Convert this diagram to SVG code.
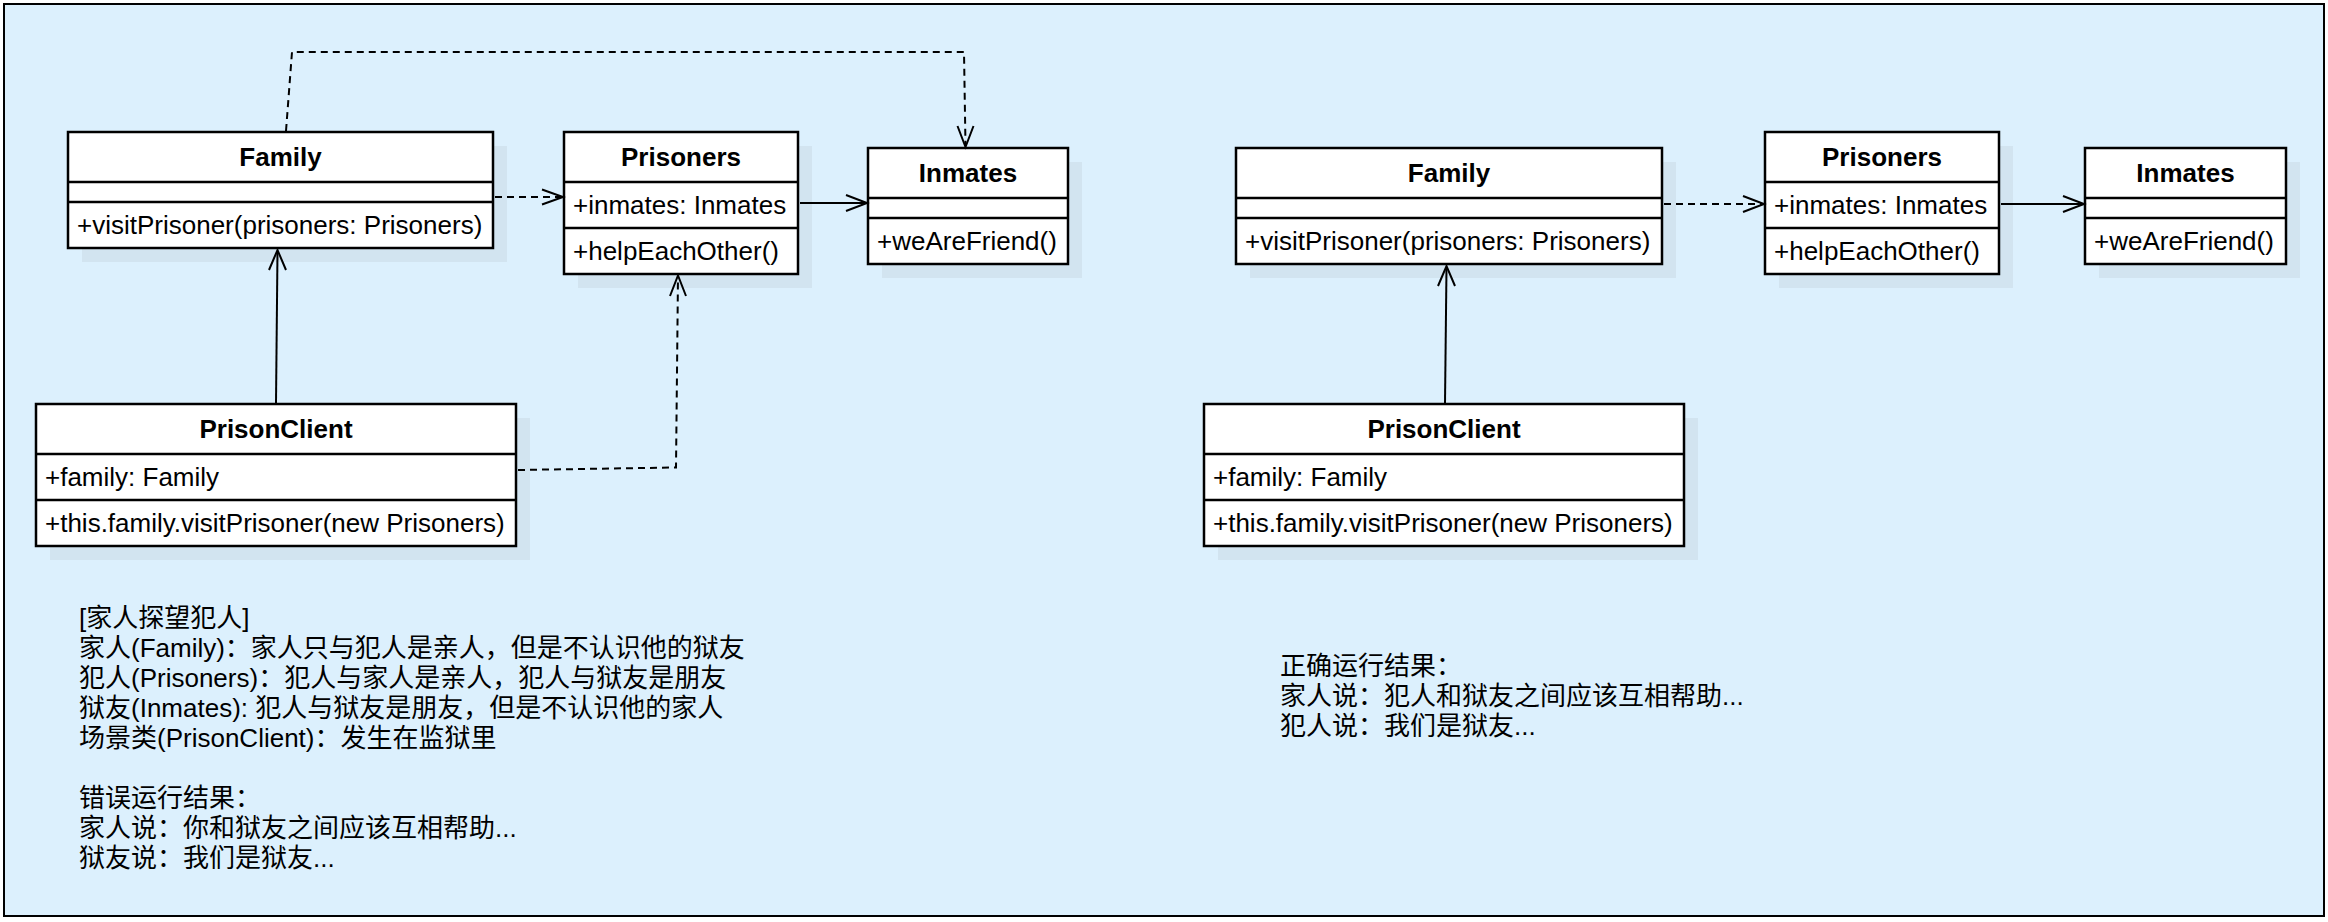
<svg xmlns="http://www.w3.org/2000/svg" width="2328" height="922" viewBox="0 0 2328 922">
<style>
.box{fill:#ffffff;stroke:#000000;stroke-width:2.5}
.sep{stroke:#000000;stroke-width:2.5;fill:none}
.shadow{fill:#d2e4f0}
.t{font-family:"Liberation Sans",Arial,"Noto Sans CJK SC",sans-serif;font-size:26px;fill:#000000}
.b{font-weight:bold;text-anchor:middle}
.note{font-family:"Liberation Sans",Arial,"Noto Sans CJK SC",sans-serif;font-size:26px;fill:#000000}
.solid{stroke:#000000;stroke-width:2;fill:none}
.dash{stroke:#000000;stroke-width:2;fill:none;stroke-dasharray:7 5}
.head{stroke:#000000;stroke-width:2;fill:none}
</style>
<rect x="0" y="0" width="2328" height="922" fill="#ffffff"/>
<rect x="4" y="4" width="2320" height="912" fill="#dcf0fd" stroke="#000000" stroke-width="2"/>

<!-- Left diagram -->
<g id="family-left">
<rect class="shadow" x="82" y="146" width="425" height="116"/>
<rect class="box" x="68" y="132" width="425" height="116"/>
<line class="sep" x1="68" y1="182" x2="493" y2="182"/>
<line class="sep" x1="68" y1="202" x2="493" y2="202"/>
<text class="t b" x="280.5" y="166">Family</text>
<text class="t" x="77" y="234">+visitPrisoner(prisoners: Prisoners)</text>
</g>
<g id="prisoners-left">
<rect class="shadow" x="578" y="146" width="234" height="142"/>
<rect class="box" x="564" y="132" width="234" height="142"/>
<line class="sep" x1="564" y1="182" x2="798" y2="182"/>
<line class="sep" x1="564" y1="228" x2="798" y2="228"/>
<text class="t b" x="681" y="166">Prisoners</text>
<text class="t" x="573" y="214">+inmates: Inmates</text>
<text class="t" x="573" y="260">+helpEachOther()</text>
</g>
<g id="inmates-left">
<rect class="shadow" x="882" y="162" width="200" height="116"/>
<rect class="box" x="868" y="148" width="200" height="116"/>
<line class="sep" x1="868" y1="198" x2="1068" y2="198"/>
<line class="sep" x1="868" y1="218" x2="1068" y2="218"/>
<text class="t b" x="968" y="182">Inmates</text>
<text class="t" x="877" y="250">+weAreFriend()</text>
</g>
<g id="prisonclient-left">
<rect class="shadow" x="50" y="418" width="480" height="142"/>
<rect class="box" x="36" y="404" width="480" height="142"/>
<line class="sep" x1="36" y1="454" x2="516" y2="454"/>
<line class="sep" x1="36" y1="500" x2="516" y2="500"/>
<text class="t b" x="276" y="438">PrisonClient</text>
<text class="t" x="45" y="486">+family: Family</text>
<text class="t" x="45" y="532">+this.family.visitPrisoner(new Prisoners)</text>
</g>

<!-- Right diagram -->
<g id="family-right">
<rect class="shadow" x="1250" y="162" width="426" height="116"/>
<rect class="box" x="1236" y="148" width="426" height="116"/>
<line class="sep" x1="1236" y1="198" x2="1662" y2="198"/>
<line class="sep" x1="1236" y1="218" x2="1662" y2="218"/>
<text class="t b" x="1449" y="182">Family</text>
<text class="t" x="1245" y="250">+visitPrisoner(prisoners: Prisoners)</text>
</g>
<g id="prisoners-right">
<rect class="shadow" x="1779" y="146" width="234" height="142"/>
<rect class="box" x="1765" y="132" width="234" height="142"/>
<line class="sep" x1="1765" y1="182" x2="1999" y2="182"/>
<line class="sep" x1="1765" y1="228" x2="1999" y2="228"/>
<text class="t b" x="1882" y="166">Prisoners</text>
<text class="t" x="1774" y="214">+inmates: Inmates</text>
<text class="t" x="1774" y="260">+helpEachOther()</text>
</g>
<g id="inmates-right">
<rect class="shadow" x="2099" y="162" width="201" height="116"/>
<rect class="box" x="2085" y="148" width="201" height="116"/>
<line class="sep" x1="2085" y1="198" x2="2286" y2="198"/>
<line class="sep" x1="2085" y1="218" x2="2286" y2="218"/>
<text class="t b" x="2185.5" y="182">Inmates</text>
<text class="t" x="2094" y="250">+weAreFriend()</text>
</g>
<g id="prisonclient-right">
<rect class="shadow" x="1218" y="418" width="480" height="142"/>
<rect class="box" x="1204" y="404" width="480" height="142"/>
<line class="sep" x1="1204" y1="454" x2="1684" y2="454"/>
<line class="sep" x1="1204" y1="500" x2="1684" y2="500"/>
<text class="t b" x="1444" y="438">PrisonClient</text>
<text class="t" x="1213" y="486">+family: Family</text>
<text class="t" x="1213" y="532">+this.family.visitPrisoner(new Prisoners)</text>
</g>

<!-- Connectors -->
<g id="connectors">
<path class="dash" d="M495 197 L562 197"/>
<polyline class="head" points="542,189.5 563,197 542,204.5"/>
<path class="solid" d="M800 203 L866 203"/>
<polyline class="head" points="846,195 867,203 846,211"/>
<path class="dash" d="M286 131 L292 52 L964 52 L965.5 146"/>
<polyline class="head" points="957.5,126 965.5,147 973.5,126"/>
<path class="solid" d="M276 403 L277.5 251"/>
<polyline class="head" points="269,270 277.5,250 286,270"/>
<path class="dash" d="M518 470 L676 467.5 L678 276"/>
<polyline class="head" points="670,296 678,275.5 686,296"/>
<path class="dash" d="M1664 204 L1763 204"/>
<polyline class="head" points="1743,196 1764,204 1743,212"/>
<path class="solid" d="M2001 204 L2083 204"/>
<polyline class="head" points="2063,196 2084,204 2063,212"/>
<path class="solid" d="M1445 403 L1446.5 267"/>
<polyline class="head" points="1438,286 1446.5,266 1455,286"/>
</g>

<!-- Notes -->
<g id="note-left">
<text class="note" x="79" y="627">[家人探望犯人]</text>
<text class="note" x="79" y="657">家人(Family)：家人只与犯人是亲人，但是不认识他的狱友</text>
<text class="note" x="79" y="687">犯人(Prisoners)：犯人与家人是亲人，犯人与狱友是朋友</text>
<text class="note" x="79" y="717">狱友(Inmates): 犯人与狱友是朋友，但是不认识他的家人</text>
<text class="note" x="79" y="747">场景类(PrisonClient)：发生在监狱里</text>
<text class="note" x="79" y="807">错误运行结果：</text>
<text class="note" x="79" y="837">家人说：你和狱友之间应该互相帮助...</text>
<text class="note" x="79" y="867">狱友说：我们是狱友...</text>
</g>
<g id="note-right">
<text class="note" x="1280" y="675">正确运行结果：</text>
<text class="note" x="1280" y="705">家人说：犯人和狱友之间应该互相帮助...</text>
<text class="note" x="1280" y="735">犯人说：我们是狱友...</text>
</g>
</svg>
